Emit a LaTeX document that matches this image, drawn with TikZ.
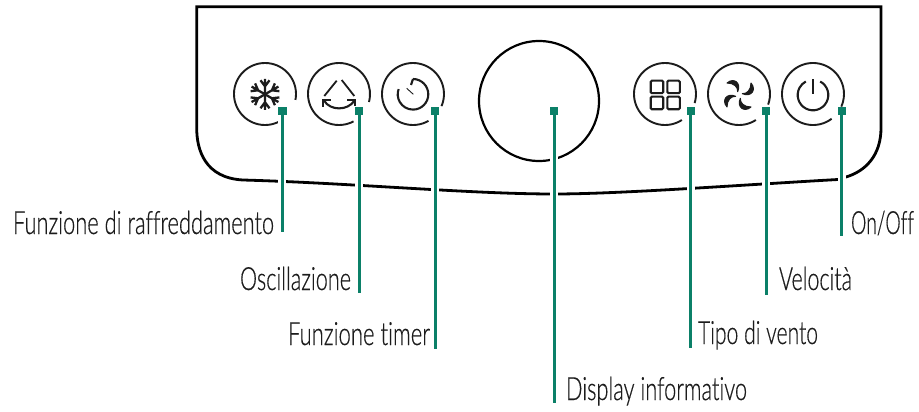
\documentclass[tikz,border=0pt]{standalone}
\usepackage{fontspec}
\usepackage{graphicx}
\setmainfont[Ligatures=NoCommon,FakeBold=0.6]{Lato Light}
\definecolor{leadgreen}{HTML}{0B8068}
\definecolor{inkdark}{HTML}{1C1C1C}
\newcommand{\lbltext}[2]{\resizebox{#1pt}{\height}{#2}}
\tikzset{
  panel/.style={line width=2.8pt,draw=black},
  btnring/.style={line width=1.9pt,draw=inkdark},
  icon/.style={line width=2.1pt,draw=inkdark},
  halo/.style={line width=8pt,draw=white},
  leader/.style={line width=3pt,draw=leadgreen},
  sq/.style={fill=leadgreen,minimum size=8.4pt,inner sep=0pt,outer sep=0pt},
  lbl/.style={anchor=base west,inner sep=0pt,outer sep=0pt,text=inkdark,font=\fontsize{32}{34}\selectfont}
}
\begin{document}
\begin{tikzpicture}[x=1pt,y=-1pt]
\useasboundingbox (0,0) rectangle (919,412);
% panel
\draw[panel,line join=miter] (243,180) .. controls (205,178) and (196.7,150) .. (196.7,128)
  -- (196.7,6.7) -- (881,6.7) -- (881,128)
  .. controls (881,155) and (866,171) .. (846,177)
  -- (838,179.5) .. controls (740,185) and (620,194) .. (554,194)
  .. controls (470,194) and (350,183) .. (243,180);
% button rings
\draw[btnring] (265,94) ++(57:31) arc[start angle=57,end angle=371,radius=31];
\draw[btnring] (339,94) ++(62:31) arc[start angle=62,end angle=375,radius=31];
\draw[btnring] (413,94) ++(60:31) arc[start angle=60,end angle=383,radius=31];
\draw[btnring] (665,94) ++(57:31) arc[start angle=57,end angle=377,radius=31];
\draw[btnring] (739,94) ++(57:31) arc[start angle=57,end angle=380,radius=31];
\draw[btnring] (813,94) ++(53:31) arc[start angle=53,end angle=384,radius=31];
% large display
\draw[line width=2.2pt,draw=black] (539,101) circle[radius=60];
% snowflake
\foreach \a in {30,90,...,330}{
  \begin{scope}[shift={(265,94.3)},rotate=\a]
    \draw[line width=2.3pt,draw=inkdark] (0,0) -- (15.5,0) (8,0) -- (14,-4.5) (8,0) -- (14,4.5);
  \end{scope}
}
% oscillation
\draw[icon,line width=1.8pt] (336.7,80.7) -- (324.3,96) (341.7,80) -- (354.3,96);
\draw[icon] (324,100.5) .. controls (330,111) and (348,111) .. (354.5,100.5);
\draw[icon,line width=2.3pt] (323.3,107) -- (323.3,100.3) -- (331,100.3);
\draw[icon,line width=2.3pt] (347,100.3) -- (355,100.3) -- (355,106);
% timer
\draw[icon] (413,79) arc[start angle=-90,end angle=200,radius=15.3];
\draw[icon] (413,79) -- (411,85);
\draw[line width=.9pt,draw=inkdark] (406.7,88.3) -- (413.3,94.3);
% grid
\foreach \gx/\gy in {650.7/80.7,667.3/80.7,650.7/96.7,667.3/96.7}{
  \draw[icon,rounded corners=1.2pt] (\gx,\gy) rectangle ++(12.5,12.5);
}
% fan
\foreach \a in {0,90,180,270}{
  \begin{scope}[shift={(739,95)},rotate=\a]
    \filldraw[inkdark,line width=1pt,line join=round] (-12,-12) .. controls (-5,-18) and (2.5,-12) .. (-1.3,-3.3)
       .. controls (-1,-8) and (-5,-12) .. (-12,-12) -- cycle;
  \end{scope}
}
% power
\draw[icon] (813,95) ++(-62:15.3) arc[start angle=-62,end angle=242,radius=15.3];
\draw[icon] (813,79.3) -- (813,94);
% labels
\node[lbl] (l1) at (13,234) {\lbltext{261}{Funzione di raffreddamento}};
\node[lbl] (l2) at (240,290) {\lbltext{111}{Oscillazione}};
\node[lbl] (l3) at (288,345) {\lbltext{142}{Funzione timer}};
\node[lbl] (l4) at (566,400) {\lbltext{181}{Display informativo}};
\node[lbl] (l5) at (698,344) {\lbltext{120}{Tipo di vento}};
\node[lbl] (l6) at (779,290) {\lbltext{73}{Velocità}};
\node[lbl] (l7) at (851,234) {\lbltext{63}{On/Off}};
% leaders
\foreach \n/\x/\e in {1/282.3/232.3,2/359/292.7,3/435/349.3,4/554/403,5/690.7/347.7,6/766/295,7/841.7/236}{
  \node[sq] (s\n) at (\x,110.8) {};
  \coordinate (e\n) at (\x,\e);
  \path[halo] (s\n.south) -- ++(0,90);
  \draw[leader] (s\n) -- (e\n);
}
\end{tikzpicture}
\end{document}
